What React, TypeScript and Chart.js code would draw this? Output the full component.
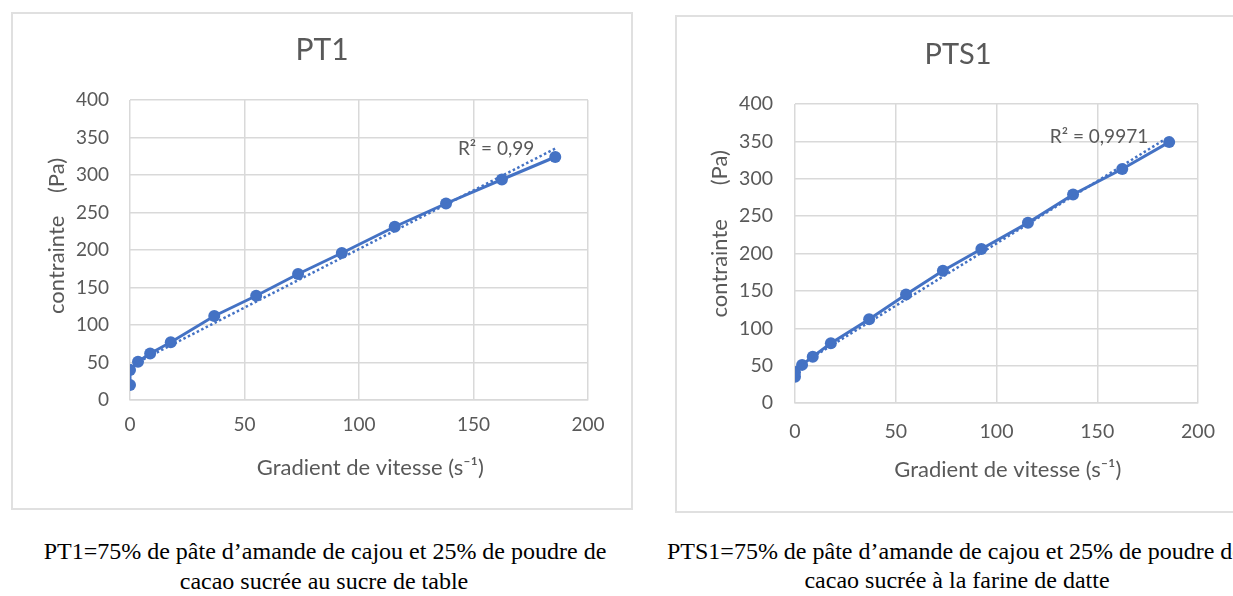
import React, { useEffect, useRef } from "react";
import { Chart, registerables } from "chart.js";

Chart.register(...registerables);

// Shear rate (s^-1) shared by both samples
const shearRate = [0, 0, 3.5, 8.8, 17.8, 36.8, 55.1, 73.4, 92.5, 115.6, 138, 162.4, 185.7];
// Shear stress (Pa)
const stressPT1 = [20, 40, 51, 62, 77, 112, 139, 168, 196, 231, 262, 294, 324];
const stressPTS1 = [35, 41, 51, 62, 80, 112, 145, 177, 206, 241, 279, 313, 349];

const xTickValues = [0, 50, 100, 150, 200];
const yTickValues = [0, 50, 100, 150, 200, 250, 300, 350, 400];

const r2PT1 = "R² = 0,99";
const r2PTS1 = "R² = 0,9971";

const BLUE = "#4472C4";
const GREY_TEXT = "#595959";
const GRID = "#d9d9d9";
const FONT = "Lato, 'Liberation Sans', sans-serif";
const NBSP = "\u00a0";

type Geo = {
  left: number; top: number; width: number; height: number;
  plotLeft: number; plotRight: number; plotTop: number; plotBottom: number;
  titleY: number; yTitleX: number; xTickY: number; xTitleY: number; yTickGap: number;
  titleSize: number; tickSize: number; yLead: number; yGap: number;
};

function linearFit(xs: number[], ys: number[]) {
  const n = xs.length;
  const mx = xs.reduce((a, b) => a + b, 0) / n;
  const my = ys.reduce((a, b) => a + b, 0) / n;
  let sxy = 0, sxx = 0;
  for (let i = 0; i < n; i++) {
    sxy += (xs[i] - mx) * (ys[i] - my);
    sxx += (xs[i] - mx) * (xs[i] - mx);
  }
  const slope = sxy / sxx;
  return { slope, intercept: my - slope * mx };
}

function RheoChart(props: { title: string; ys: number[]; r2: string; geo: Geo }) {
  const ref = useRef<HTMLCanvasElement | null>(null);
  const { title, ys, r2, geo } = props;

  useEffect(() => {
    const canvas = ref.current;
    if (!canvas) return;
    const fit = linearFit(shearRate, ys);
    const xMin = Math.min(...shearRate);
    const xMax = Math.max(...shearRate);
    const trend = [
      { x: xMin, y: fit.intercept + fit.slope * xMin },
      { x: xMax, y: fit.intercept + fit.slope * xMax },
    ];
    const points = shearRate.map((x, i) => ({ x, y: ys[i] }));

    const titleSize = geo.titleSize;
    const tickSize = geo.tickSize;
    const xTitleSize = 22;
    const yTitleSize = 22;
    const lh = 1.2;

    // R² text placed just before the end of the trend line
    const r2Plugin = {
      id: "r2Label",
      afterDatasetsDraw(chart: any) {
        const meta = chart.getDatasetMeta(1);
        const end = meta.data[meta.data.length - 1];
        const c = chart.ctx;
        c.save();
        c.font = `19px ${FONT}`;
        c.fillStyle = GREY_TEXT;
        c.textAlign = "right";
        c.textBaseline = "middle";
        c.fillText(r2, end.x - 21, end.y);
        c.restore();
      },
    };

    const chart = new Chart(canvas, {
      type: "scatter",
      data: {
        datasets: [
          {
            data: points,
            showLine: true,
            borderColor: BLUE,
            backgroundColor: BLUE,
            borderWidth: 3,
            pointRadius: 6,
            pointBorderWidth: 0,
            pointBackgroundColor: BLUE,
            order: 1,
          },
          {
            data: trend,
            showLine: true,
            borderColor: BLUE,
            borderWidth: 2.5,
            borderDash: [2.5, 2.5],
            pointRadius: 0,
            order: 0,
          },
        ],
      },
      options: {
        responsive: false,
        animation: false,
        devicePixelRatio: 1,
        layout: { padding: 0 },
        plugins: {
          legend: { display: false },
          tooltip: { enabled: false },
          title: {
            display: true,
            text: title,
            color: GREY_TEXT,
            font: { family: FONT, size: titleSize, weight: "normal" },
            padding: {
              top: geo.titleY - (titleSize * lh) / 2,
              bottom: geo.plotTop - geo.titleY - (titleSize * lh) / 2,
            },
          },
        },
        scales: {
          x: {
            type: "linear",
            min: 0,
            max: 200,
            afterBuildTicks: (s: any) => {
              s.ticks = xTickValues.map((v) => ({ value: v }));
            },
            afterFit: (s: any) => {
              s.height = geo.height - geo.plotBottom;
            },
            grid: { color: GRID, drawTicks: false, lineWidth: 1.5 },
            border: { color: GRID, width: 1.5 },
            ticks: {
              color: GREY_TEXT,
              font: { family: FONT, size: tickSize },
              padding: geo.xTickY - (tickSize * lh) / 2,
            },
            title: {
              display: true,
              text: NBSP.repeat(4) + "Gradient de vitesse (s⁻¹)",
              color: GREY_TEXT,
              font: { family: FONT, size: xTitleSize },
              padding: { top: 0, bottom: geo.height - geo.plotBottom - geo.xTitleY - (xTitleSize * lh) / 2 },
            },
          },
          y: {
            type: "linear",
            min: 0,
            max: 400,
            afterBuildTicks: (s: any) => {
              s.ticks = yTickValues.map((v) => ({ value: v }));
            },
            afterFit: (s: any) => {
              s.width = geo.plotLeft;
            },
            grid: { color: GRID, drawTicks: false, lineWidth: 1.5 },
            border: { display: false },
            ticks: {
              color: GREY_TEXT,
              font: { family: FONT, size: tickSize },
              padding: geo.yTickGap,
            },
            title: {
              display: true,
              text: NBSP.repeat(geo.yLead) + "contrainte" + NBSP.repeat(geo.yGap) + "(Pa)",
              color: GREY_TEXT,
              font: { family: FONT, size: yTitleSize },
              padding: { top: geo.yTitleX - (yTitleSize * lh) / 2, bottom: 0 },
            },
          },
          // empty right-hand margin so the title stays centred on the whole frame
          margin: {
            type: "linear",
            position: "right",
            display: true,
            afterFit: (s: any) => {
              s.width = geo.width - geo.plotRight;
            },
            grid: { display: false },
            border: { display: false },
            ticks: { display: false },
          },
        },
      },
      plugins: [r2Plugin],
    } as any);
    return () => chart.destroy();
  }, [title, ys, r2, geo]);

  return (
    <canvas
      ref={ref}
      width={geo.width}
      height={geo.height}
      style={{ position: "absolute", left: geo.left, top: geo.top, width: geo.width, height: geo.height }}
    />
  );
}

const geoPT1: Geo = {
  left: 13, top: 14, width: 618, height: 494,
  plotLeft: 117, plotRight: 575, plotTop: 86, plotBottom: 386,
  titleY: 36, yTitleX: 44, xTickY: 25, xTitleY: 68, yTickGap: 21,
  titleSize: 30, tickSize: 19, yLead: 5, yGap: 4,
};

const geoPTS1: Geo = {
  left: 677, top: 17, width: 562, height: 494,
  plotLeft: 118, plotRight: 521, plotTop: 87, plotBottom: 386,
  titleY: 38, yTitleX: 43, xTickY: 29, xTitleY: 67, yTickGap: 22,
  titleSize: 29, tickSize: 19.5, yLead: 7, yGap: 6,
};

const frameStyle = (l: number, t: number, w: number, h: number): React.CSSProperties => ({
  position: "absolute",
  left: l,
  top: t,
  width: w,
  height: h,
  border: "2px solid #e0e0e0",
  boxSizing: "border-box",
  background: "#fff",
});

const captionLine = (cx: number, cy: number, text: string) => (
  <div
    style={{
      position: "absolute",
      left: cx - 400,
      top: cy - 15,
      width: 800,
      height: 30,
      lineHeight: "30px",
      textAlign: "center",
      whiteSpace: "nowrap",
      fontFamily: "'Liberation Serif', 'Times New Roman', serif",
      fontSize: 24,
      color: "#000",
    }}
  >
    {text}
  </div>
);

export default function App() {
  return (
    <div
      style={{
        position: "fixed",
        left: 0,
        top: 0,
        width: 1233,
        height: 596,
        overflow: "hidden",
        background: "#fff",
      }}
    >
      <div style={frameStyle(11, 12, 622, 498)} />
      <div style={frameStyle(675, 15, 566, 498)} />
      <RheoChart title="PT1" ys={stressPT1} r2={r2PT1} geo={geoPT1} />
      <RheoChart title="PTS1" ys={stressPTS1} r2={r2PTS1} geo={geoPTS1} />
      {captionLine(325, 551, "PT1=75% de pâte d’amande de cajou et 25% de poudre de")}
      {captionLine(324, 581, "cacao sucrée au sucre de table")}
      {captionLine(955, 551, "PTS1=75% de pâte d’amande de cajou et 25% de poudre de")}
      {captionLine(957, 580, "cacao sucrée à la farine de datte")}
    </div>
  );
}
